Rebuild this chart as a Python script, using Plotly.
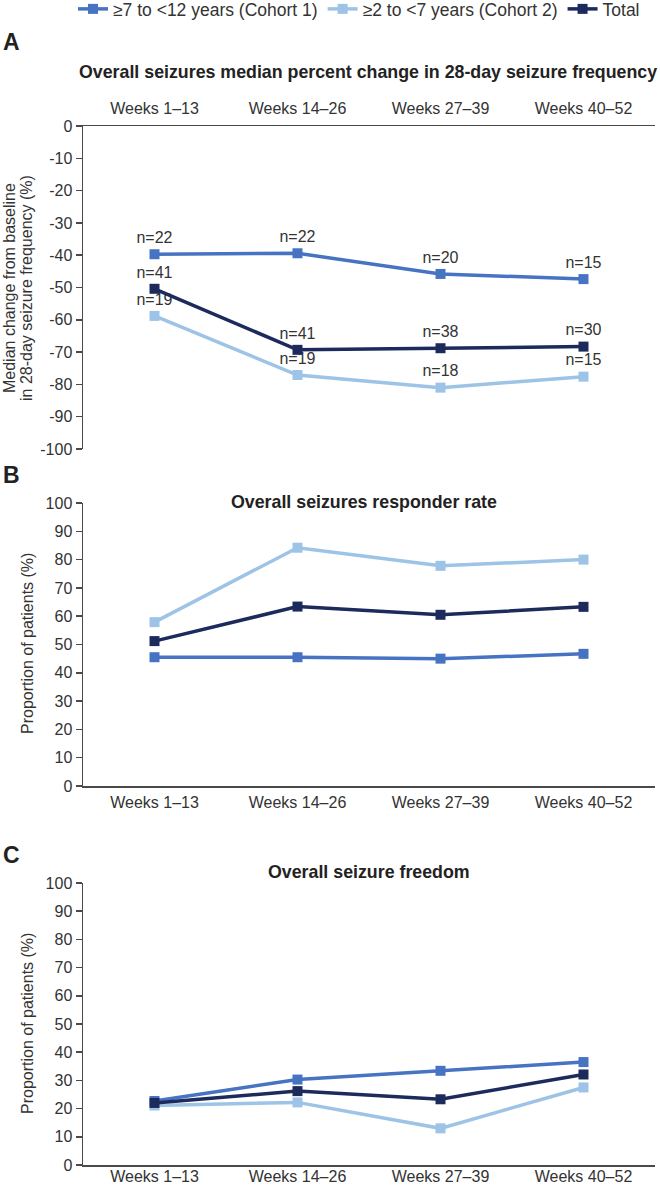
import plotly.graph_objects as go

# ---------------- data ----------------
categories = ["Weeks 1–13", "Weeks 14–26", "Weeks 27–39", "Weeks 40–52"]
series_names = ["≥7 to <12 years (Cohort 1)", "≥2 to <7 years (Cohort 2)", "Total"]
series_colors = ["#4673C2", "#9DC3E6", "#1C2A5C"]

# Panel A: median percent change in 28-day seizure frequency
a_cohort1 = [-39.7, -39.4, -45.8, -47.4]
a_cohort2 = [-58.8, -77.1, -81.0, -77.6]
a_total = [-50.4, -69.3, -68.8, -68.3]
n_cohort1 = [22, 22, 20, 15]
n_cohort2 = [19, 19, 18, 15]
n_total = [41, 41, 38, 30]

# Panel B: responder rate (%)
b_cohort1 = [45.5, 45.5, 45.0, 46.7]
b_cohort2 = [57.9, 84.2, 77.8, 80.0]
b_total = [51.2, 63.4, 60.5, 63.3]

# Panel C: seizure freedom (%)
c_cohort1 = [22.7, 30.3, 33.4, 36.5]
c_cohort2 = [21.1, 22.2, 13.0, 27.5]
c_total = [22.0, 26.2, 23.3, 32.1]

a_ticks = [0, -10, -20, -30, -40, -50, -60, -70, -80, -90, -100]
p_ticks = [0, 10, 20, 30, 40, 50, 60, 70, 80, 90, 100]

panel_titles = [
    "Overall seizures median percent change in 28-day seizure frequency",
    "Overall seizures responder rate",
    "Overall seizure freedom",
]
panel_letters = ["A", "B", "C"]

# ---------------- figure ----------------
W, H = 660, 1185
FONT = "Liberation Sans, Arial, Helvetica, sans-serif"
TXT = "#333333"
AX = "#4a4a4a"


def py(pix):
    return 1 - pix / H


def px(pix):
    return pix / W


fig = go.Figure()

panels = [
    ("x", "y", [a_cohort1, a_cohort2, a_total], [n_cohort1, n_cohort2, n_total]),
    ("x2", "y2", [b_cohort1, b_cohort2, b_total], None),
    ("x3", "y3", [c_cohort1, c_cohort2, c_total], None),
]

for pi, (xa, ya, vals, ns) in enumerate(panels):
    for si in range(3):
        if ns is not None:
            kw = dict(
                mode="lines+markers+text",
                text=["n=%d" % n for n in ns[si]],
                textposition="top center",
                textfont=dict(family=FONT, size=16, color=TXT),
            )
        else:
            kw = dict(mode="lines+markers")
        fig.add_trace(
            go.Scatter(
                x=categories,
                y=vals[si],
                name=series_names[si],
                legendgroup=series_names[si],
                showlegend=(pi == 0),
                line=dict(color=series_colors[si], width=3.5),
                marker=dict(symbol="square", size=10, color=series_colors[si]),
                xaxis=xa,
                yaxis=ya,
                cliponaxis=False,
                hoverinfo="skip",
                **kw,
            )
        )

xdom = [px(83), px(655)]
common_x = dict(
    type="category",
    range=[-0.5, 3.5],
    domain=xdom,
    showline=True,
    linecolor=AX,
    linewidth=1.5,
    showgrid=False,
    zeroline=False,
    ticks="",
    tickfont=dict(family=FONT, size=16, color=TXT),
)
common_y = dict(
    showline=True,
    linecolor=AX,
    linewidth=1.5,
    showgrid=False,
    zeroline=False,
    ticks="outside",
    ticklen=6,
    tickwidth=1.5,
    tickcolor=AX,
    tickfont=dict(family=FONT, size=16, color=TXT),
)

fig.update_layout(
    width=W,
    height=H,
    margin=dict(l=0, r=0, t=0, b=0, autoexpand=False),
    plot_bgcolor="white",
    paper_bgcolor="white",
    font=dict(family=FONT, color=TXT),
    xaxis=dict(common_x, anchor="y", side="top", ticklabelstandoff=4),
    yaxis=dict(common_y, domain=[py(449), py(126)], range=[-100, 0],
               tickvals=a_ticks, ticktext=[str(v) for v in a_ticks], anchor="x"),
    xaxis2=dict(common_x, anchor="y2", ticklabelstandoff=1),
    yaxis2=dict(common_y, domain=[py(786), py(503)], range=[0, 100],
                tickvals=p_ticks, ticktext=[str(v) for v in p_ticks], anchor="x2"),
    xaxis3=dict(common_x, anchor="y3", ticklabelstandoff=-4),
    yaxis3=dict(common_y, domain=[py(1165), py(883)], range=[0, 100],
                tickvals=p_ticks, ticktext=[str(v) for v in p_ticks], anchor="x3"),
    legend=dict(
        orientation="h",
        x=px(359),
        xanchor="center",
        y=py(9),
        yanchor="middle",
        font=dict(family=FONT, size=17.5, color=TXT),
        bgcolor="rgba(0,0,0,0)",
    ),
    showlegend=True,
)

annos = []
# panel titles
for t, ypix, xpix in zip(panel_titles, [72, 502, 872], [368, 364, 369]):
    annos.append(dict(text="<b>%s</b>" % t, x=px(xpix), y=py(ypix), xref="paper", yref="paper",
                      xanchor="center", yanchor="middle", showarrow=False,
                      font=dict(family=FONT, size=17.8, color="#222222")))
# panel letters
for t, ypix in zip(panel_letters, [42, 475, 855]):
    annos.append(dict(text="<b>%s</b>" % t, x=px(1), y=py(ypix), xref="paper", yref="paper",
                      xanchor="left", yanchor="middle", showarrow=False,
                      font=dict(family=FONT, size=23, color="#222222")))
# y axis titles
annos.append(dict(text="Median change from baseline", x=px(10), y=py(288), xref="paper", yref="paper",
                  xanchor="center", yanchor="middle", textangle=-90, showarrow=False,
                  font=dict(family=FONT, size=16, color=TXT)))
annos.append(dict(text="in 28-day seizure frequency (%)", x=px(27), y=py(288), xref="paper", yref="paper",
                  xanchor="center", yanchor="middle", textangle=-90, showarrow=False,
                  font=dict(family=FONT, size=16, color=TXT)))
for ypix in [644, 1024]:
    annos.append(dict(text="Proportion of patients (%)", x=px(27), y=py(ypix), xref="paper", yref="paper",
                      xanchor="center", yanchor="middle", textangle=-90, showarrow=False,
                      font=dict(family=FONT, size=16, color=TXT)))
fig.update_layout(annotations=annos)

fig.write_html(
    "out.html",
    config={"displayModeBar": False, "staticPlot": True},
    post_script="document.body.style.margin='0';document.body.style.overflow='hidden';",
)
